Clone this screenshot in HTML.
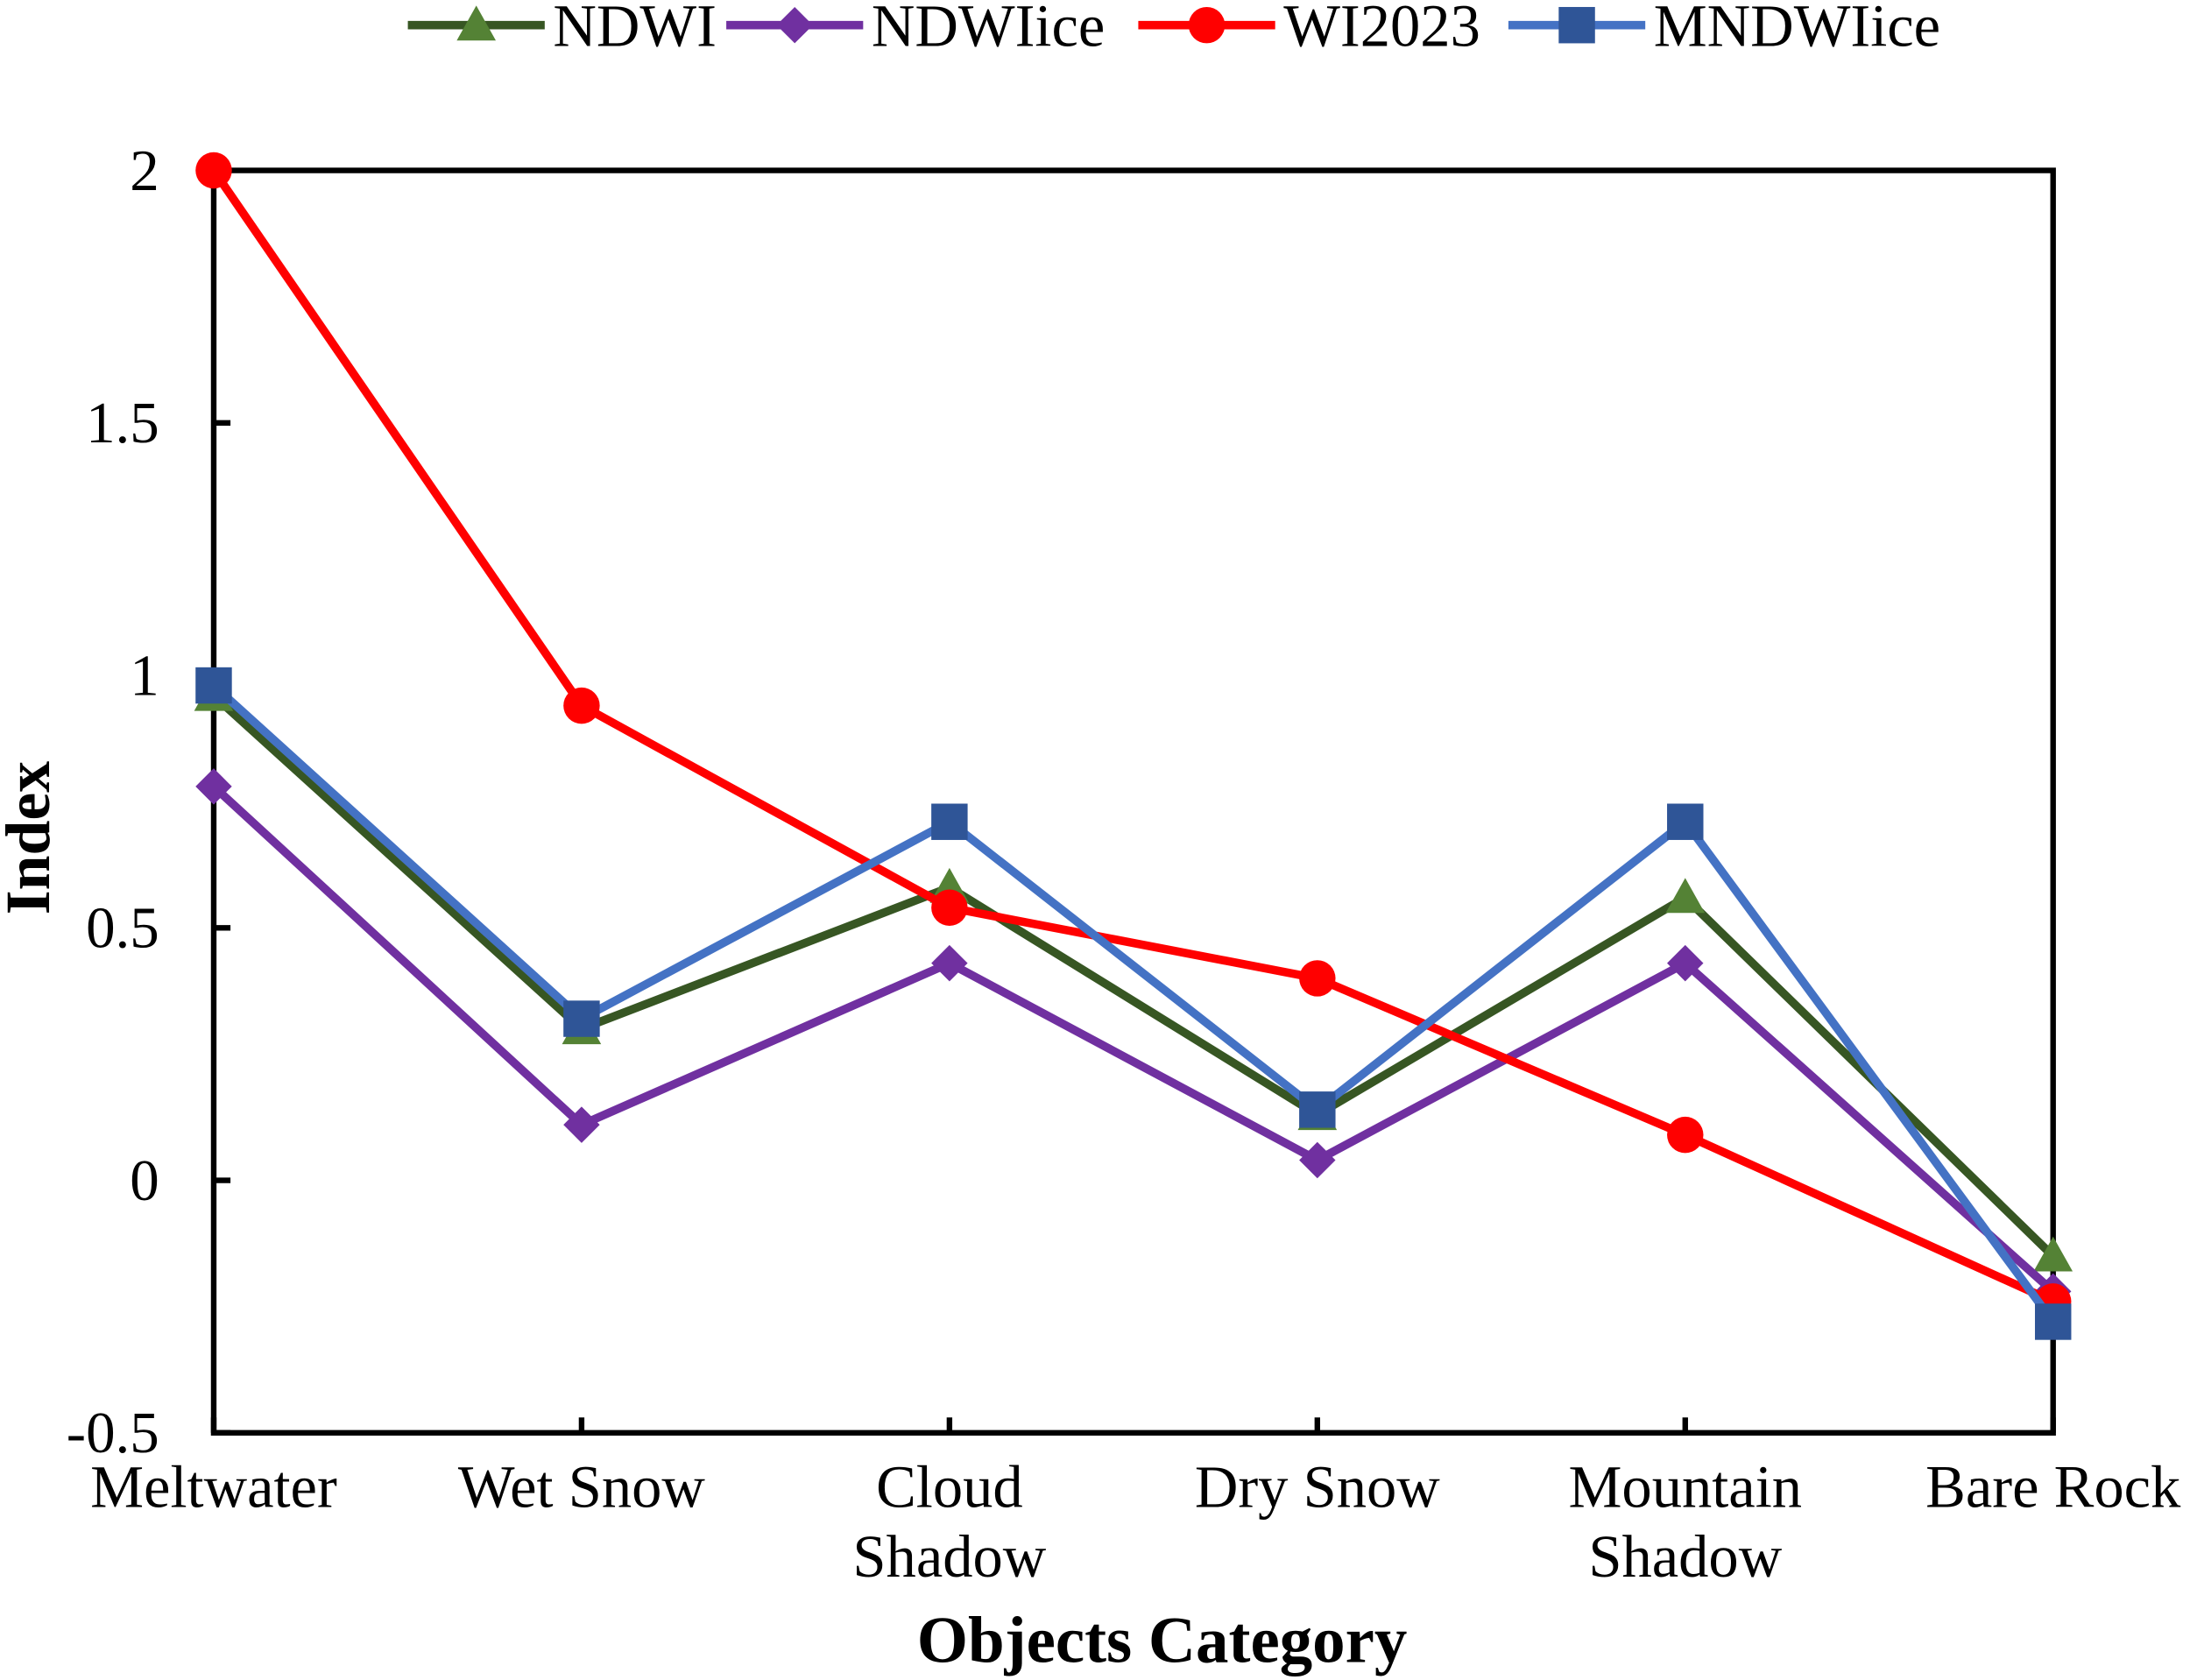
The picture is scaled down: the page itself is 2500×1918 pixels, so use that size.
<!DOCTYPE html>
<html><head><meta charset="utf-8"><style>
html,body{margin:0;padding:0;background:#fff;}
svg{display:block;font-family:"Liberation Serif",serif;}
</style></head><body>
<svg id="chart" width="2500" height="1918" viewBox="0 0 1568 1203" xmlns="http://www.w3.org/2000/svg">
<g id="axes"></g>
<g id="series"></g>
<g id="legend"></g>
<text x="0" y="0" transform="translate(35,600) rotate(-90)" text-anchor="middle" font-size="45" font-weight="bold">Index</text>
<text x="832" y="1190" text-anchor="middle" font-size="47" font-weight="bold">Objects Category</text>
</svg>
<script>
const categories = [["Meltwater"],["Wet Snow"],["Cloud","Shadow"],["Dry Snow"],["Mountain","Shadow"],["Bare Rock"]];
const yTicks = [-0.5,0,0.5,1,1.5,2];
const yTickLabels = ["-0.5","0","0.5","1","1.5","2"];
const seriesNames = ["NDWI","NDWIice","WI2023","MNDWIice"];
const ndwi = [0.96,0.30,0.58,0.13,0.56,-0.15];
const ndwiIce = [0.78,0.11,0.43,0.04,0.43,-0.22];
const wi2023 = [2.0,0.94,0.54,0.40,0.09,-0.24];
const mndwiIce = [0.98,0.32,0.71,0.14,0.71,-0.28];

const NS="http://www.w3.org/2000/svg";
const L=153,R=1470,T=122,B=1026,YMIN=-0.5,YMAX=2;
function xPos(i){return L+(R-L)*i/(categories.length-1);}
function yPos(v){return B-(v-YMIN)/(YMAX-YMIN)*(B-T);}
function mk(tag,attrs,parent){const e=document.createElementNS(NS,tag);for(const k in attrs)e.setAttribute(k,attrs[k]);parent.appendChild(e);return e;}

const axes=document.getElementById('axes');
const frame=mk('path',{d:`M${L},${B} L${L},${T} L${R},${T} L${R},${B} Z`,fill:'none',stroke:'#000','stroke-width':4},axes);


yTicks.forEach((v,i)=>{
  const tk=mk('line',{x1:L,y1:yPos(v),x2:L+12,y2:yPos(v),stroke:'#000','stroke-width':4},axes);
  
  
  const t=mk('text',{x:114,y:yPos(v)+14,'text-anchor':'end','font-size':42},axes);
  t.textContent=yTickLabels[i];
  
  
});
categories.forEach((c,i)=>{
  const x=xPos(i);
  const tk=mk('line',{x1:x,y1:B,x2:x,y2:B-11,stroke:'#000','stroke-width':4},axes);
  
  
  c.forEach((line,j)=>{
    const t=mk('text',{x:x,y:1079+j*50,'text-anchor':'middle','font-size':43},axes);
    t.textContent=line;
    
    
  });
});

const styles=[
 {data:ndwi,line:'#375623',fill:'#548235',m:'tri'},
 {data:ndwiIce,line:'#7030A0',fill:'#7030A0',m:'dia'},
 {data:wi2023,line:'#FF0000',fill:'#FF0000',m:'circ'},
 {data:mndwiIce,line:'#4472C4',fill:'#2F5597',m:'sq'}
];
function marker(type,x,y,fill,parent){
  let e;
  if(type==='tri') e=mk('path',{d:`M${x},${y-14} L${x+14},${y+11} L${x-14},${y+11} Z`,fill:fill},parent);
  else if(type==='dia') e=mk('path',{d:`M${x},${y-13} L${x+13},${y} L${x},${y+13} L${x-13},${y} Z`,fill:fill},parent);
  else if(type==='circ') e=mk('circle',{cx:x,cy:y,r:13,fill:fill},parent);
  else e=mk('rect',{x:x-13,y:y-13,width:26,height:26,fill:fill},parent);
  return e;
}
const sg=document.getElementById('series');
styles.forEach((s,si)=>{
  const g=mk('g',{},sg);
  
  
  const pts=s.data.map((v,i)=>xPos(i)+','+yPos(v)).join(' ');
  const pl=mk('polyline',{points:pts,fill:'none',stroke:s.line,'stroke-width':6,'stroke-linejoin':'round'},g);
  
  
  s.data.forEach((v,i)=>{
    const m=marker(s.m,xPos(i),yPos(v),s.fill,g);
    
    
  });
});

const lg=document.getElementById('legend');
const legX=[292,520,815,1080];
styles.forEach((s,si)=>{
  const g=mk('g',{},lg);
  
  
  const x0=legX[si];
  mk('line',{x1:x0,y1:18,x2:x0+98,y2:18,stroke:s.line,'stroke-width':6},g);
  marker(s.m,x0+49,18,s.fill,g);
  const t=mk('text',{x:x0+104,y:33,'font-size':43},g);
  t.textContent=seriesNames[si];
});
</script>
</body></html>
